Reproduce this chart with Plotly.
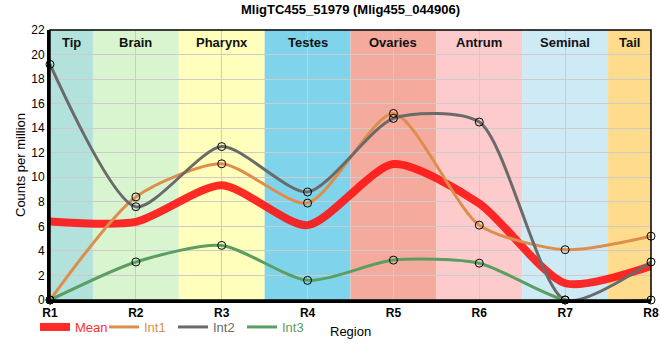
import plotly.graph_objects as go

regions = ["R1", "R2", "R3", "R4", "R5", "R6", "R7", "R8"]
tissues = ["Tip", "Brain", "Pharynx", "Testes", "Ovaries", "Antrum", "Seminal", "Tail"]
tissue_colors = ["#b3e2dd", "#d9f5d0", "#ffffbb", "#7fd4ec", "#f4ab9d", "#fdcbcc", "#ceeaf5", "#fedb8d"]

int1 = [0.0, 8.4, 11.1, 7.9, 15.2, 6.1, 4.1, 5.2]
int2 = [19.2, 7.6, 12.5, 8.8, 14.8, 14.5, 0.0, 3.1]
int3 = [0.0, 3.1, 4.45, 1.6, 3.25, 3.0, 0.0, 0.0]
mean = [(a + b + c) / 3 for a, b, c in zip(int1, int2, int3)]

xs = list(range(len(regions)))
font = "Liberation Sans, Arial, sans-serif"
W, H = 660, 360
ML, MR, MT, MB = 50, 9, 30, 60
PW = W - ML - MR
PH = H - MT - MB

fig = go.Figure()

shapes = []
annotations = []
for i, (t, c) in enumerate(zip(tissues, tissue_colors)):
    x0 = max(i - 0.5, 0)
    x1 = min(i + 0.5, len(regions) - 1)
    shapes.append(dict(type="rect", xref="x", yref="paper", x0=x0, x1=x1, y0=0, y1=1,
                       fillcolor=c, line=dict(width=0), layer="below"))
    annotations.append(dict(x=(x0 + x1) / 2, y=1, xref="x", yref="paper", yshift=-12,
                            yanchor="middle", xanchor="center",
                            text="<b>" + t + "</b>", showarrow=False,
                            font=dict(family=font, size=13, color="#111")))
shapes.append(dict(type="rect", xref="paper", yref="paper", x0=0, x1=1, y0=0, y1=1,
                   line=dict(color="black", width=1.5), layer="above"))

# axis titles
annotations.append(dict(x=0.5, y=0, xref="paper", yref="paper", yshift=-31,
                        xanchor="center", yanchor="middle", showarrow=False,
                        text="Region", font=dict(family=font, size=13, color="black")))
annotations.append(dict(x=(20 - ML) / PW, y=0.5, xref="paper", yref="paper",
                        xanchor="center", yanchor="middle", showarrow=False, textangle=-90,
                        text="Counts per million", font=dict(family=font, size=13, color="black")))

smooth = 0.7
fig.add_trace(go.Scatter(x=xs, y=mean, mode="lines",
                         line=dict(color="rgba(255,20,20,0.9)", width=8, shape="spline", smoothing=smooth),
                         cliponaxis=True, showlegend=False))
series = [("Int1", int1, "#de8e4c"), ("Int2", int2, "#6a6a6a"), ("Int3", int3, "#5a9e62")]
for name, ys, col in series:
    fig.add_trace(go.Scatter(x=xs, y=ys, mode="lines", showlegend=False,
                             line=dict(color=col, width=3, shape="spline", smoothing=smooth),
                             cliponaxis=True))
for name, ys, col in series:
    fig.add_trace(go.Scatter(x=xs, y=ys, mode="markers", showlegend=False,
                             marker=dict(size=8, color="rgba(0,0,0,0)",
                                         line=dict(color="black", width=1)),
                             cliponaxis=False))

# legend entries
fig.add_trace(go.Scatter(x=[None], y=[None], mode="lines",
                         name="<span style='color:#ff3030'>Mean</span>",
                         line=dict(color="rgba(255,20,20,0.9)", width=8)))
for name, ys, col in series:
    fig.add_trace(go.Scatter(x=[None], y=[None], mode="lines",
                             name="<span style='color:%s'>%s</span>" % (col, name),
                             line=dict(color=col, width=3)))

fig.update_layout(
    width=W, height=H,
    margin=dict(l=ML, r=MR, t=MT, b=MB, autoexpand=False),
    paper_bgcolor="white", plot_bgcolor="white",
    font=dict(family=font, size=12, color="black"),
    title=dict(text="<b>MligTC455_51979 (Mlig455_044906)</b>", x=0.5, xanchor="center",
               xref="paper", y=1 - 9 / H, yanchor="middle", font=dict(size=13, family=font)),
    shapes=shapes, annotations=annotations,
    showlegend=True,
    legend=dict(orientation="h", x=(35 - ML) / PW, xanchor="left", y=-27 / PH, yanchor="middle",
                bgcolor="rgba(0,0,0,0)", font=dict(size=13, family=font),
                itemwidth=30, entrywidth=24, tracegroupgap=0),
    xaxis=dict(range=[0, len(regions) - 1], tickvals=xs,
               ticktext=["<b>" + r + "</b>" for r in regions],
               showgrid=True, gridcolor="#cccccc", gridwidth=1, automargin=False,
               showline=True, linecolor="black", linewidth=3, ticks="",
               tickfont=dict(size=12), zeroline=False),
    yaxis=dict(range=[0, 22], dtick=2, showgrid=True, gridcolor="#cccccc", gridwidth=1,
               showline=True, linecolor="black", linewidth=3, ticks="", zeroline=False,
               automargin=False, tickfont=dict(size=12)),
)

fig.write_html("out.html", config={"displayModeBar": False},
               post_script="document.body.style.margin='0';")
